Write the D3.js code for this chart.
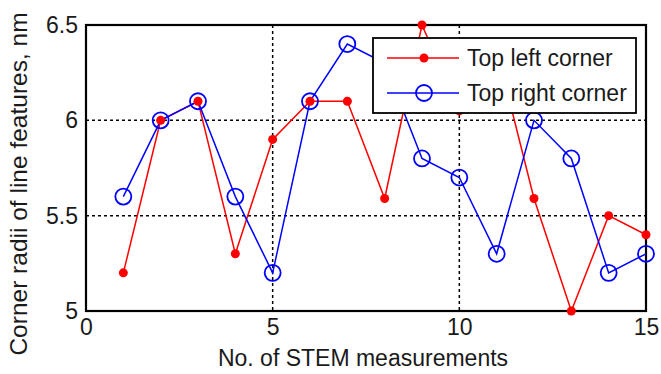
<!DOCTYPE html>
<html><head><meta charset="utf-8">
<script src="https://cdn.jsdelivr.net/npm/d3@7"></script>
<style>body{margin:0;background:#fff}svg{display:block;font-family:"Liberation Sans",Arial,sans-serif}</style>
</head><body><svg id="c" width="661" height="374"></svg>
<script>
const measurements = [1,2,3,4,5,6,7,8,9,10,11,12,13,14,15];
const topLeft  = [5.2,6.0,6.1,5.3,5.9,6.1,6.1,5.59,6.5,6.05,6.37,5.59,5.0,5.5,5.4];
const topRight = [5.6,6.0,6.1,5.6,5.2,6.1,6.4,6.3,5.8,5.7,5.3,6.0,5.8,5.2,5.3];
const xTicks = [0,5,10,15];
const yTicks = [5,5.5,6,6.5];
const seriesNames = ["Top left corner","Top right corner"];

const svg = d3.select("#c");
const TXT = "#1a1a1a";
const m = {l:86,r:646,t:25,b:311};
const x = d3.scaleLinear().domain([0,15]).range([m.l,m.r]);
const y = d3.scaleLinear().domain([5,6.5]).range([m.b,m.t]);

// grid
svg.append("g").selectAll("line").data([5,10]).join("line")
  .attr("x1",d=>x(d)).attr("x2",d=>x(d)).attr("y1",m.t).attr("y2",m.b)
  .attr("stroke","#000").attr("stroke-width",1.5).attr("stroke-dasharray","3,3");
svg.append("g").selectAll("line").data([5.5,6]).join("line")
  .attr("y1",d=>y(d)).attr("y2",d=>y(d)).attr("x1",m.l).attr("x2",m.r)
  .attr("stroke","#000").attr("stroke-width",1.5).attr("stroke-dasharray","3,3");

// axes
const xa = svg.append("g").attr("transform",`translate(0,${m.b})`)
  .call(d3.axisBottom(x).tickValues(xTicks).tickSize(0).tickPadding(8).tickFormat(d3.format("d")));
const ya = svg.append("g").attr("transform",`translate(${m.l},0)`)
  .call(d3.axisLeft(y).tickValues(yTicks).tickSize(0).tickPadding(8).tickFormat(d=>d%1===0?d3.format("d")(d):d3.format(".1f")(d)));
[xa,ya].forEach(g=>{g.select(".domain").remove();g.selectAll("text").attr("font-size",23).attr("fill",TXT).attr("font-family","Liberation Sans, Arial, sans-serif");});

svg.append("rect").attr("x",m.l).attr("y",m.t).attr("width",m.r-m.l).attr("height",m.b-m.t)
  .attr("fill","none").attr("stroke","#000").attr("stroke-width",2.2);

const line = d3.line().x((d,i)=>x(measurements[i])).y(d=>y(d));
svg.append("path").datum(topLeft).attr("d",line).attr("fill","none").attr("stroke","#f00").attr("stroke-width",1.5);
svg.append("path").datum(topRight).attr("d",line).attr("fill","none").attr("stroke","#00f").attr("stroke-width",1.5);
svg.append("g").selectAll("circle").data(topLeft).join("circle")
  .attr("cx",(d,i)=>x(measurements[i])).attr("cy",d=>y(d)).attr("r",4.5).attr("fill","#f00");
svg.append("g").selectAll("circle").data(topRight).join("circle")
  .attr("cx",(d,i)=>x(measurements[i])).attr("cy",d=>y(d)).attr("r",8).attr("fill","none").attr("stroke","#00f").attr("stroke-width",1.8);

// legend
const lg = svg.append("g");
lg.append("rect").attr("x",373).attr("y",38).attr("width",263).attr("height",75)
  .attr("fill","#fff").attr("stroke","#000").attr("stroke-width",1.8);
const rows = [{n:seriesNames[0],c:"#f00",y:58},{n:seriesNames[1],c:"#00f",y:93}];
rows.forEach((r,i)=>{
  lg.append("line").attr("x1",387).attr("x2",459).attr("y1",r.y).attr("y2",r.y).attr("stroke",r.c).attr("stroke-width",1.5);
  if(i===0) lg.append("circle").attr("cx",424).attr("cy",r.y).attr("r",4.5).attr("fill",r.c);
  else lg.append("circle").attr("cx",424).attr("cy",r.y).attr("r",8).attr("fill","none").attr("stroke",r.c).attr("stroke-width",1.8);
  lg.append("text").attr("x",467).attr("y",r.y).attr("dy","0.35em").attr("font-size",23).attr("fill",TXT).text(r.n);
});

// axis titles
svg.append("text").attr("x",(m.l+m.r)/2-3).attr("y",366).attr("text-anchor","middle").attr("font-size",23).attr("fill",TXT).text("No. of STEM measurements");
svg.append("text").attr("transform",`translate(27,${184}) rotate(-90)`).attr("text-anchor","middle").attr("font-size",24.5).attr("fill",TXT).text("Corner radii of line features, nm");
</script></body></html>
